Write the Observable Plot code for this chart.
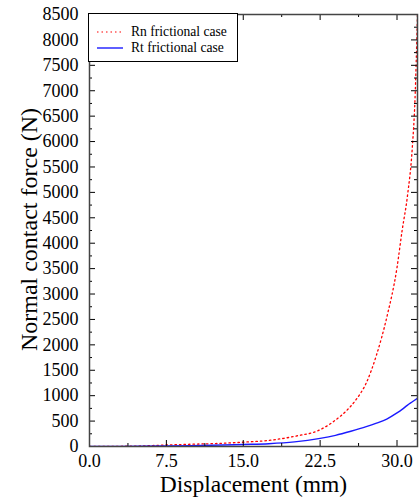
<!DOCTYPE html>
<html>
<head>
<meta charset="utf-8">
<script src="https://cdn.jsdelivr.net/npm/d3@7"></script>
<script src="https://cdn.jsdelivr.net/npm/@observablehq/plot@0.6"></script>
<style>
  html, body { margin: 0; padding: 0; background: #fff; }
  #wrap { position: relative; width: 419px; height: 499px; }
  #chart svg text { font-family: "Liberation Serif", "DejaVu Serif", serif; }
  #legend {
    position: absolute; left: 88px; top: 13px; width: 150px; height: 49px;
    box-sizing: border-box; border: 1px solid #000; background: #fff;
    font-family: "Liberation Serif", "DejaVu Serif", serif; font-size: 13.6px; color: #000;
  }
  #legend .row { position: absolute; left: 0; height: 16px; display: flex; align-items: center; white-space: nowrap; }
  #legend svg { margin-left: 8px; margin-right: 8px; }
</style>
</head>
<body>
<div id="wrap">
  <div id="chart"></div>
  <div id="legend">
    <div class="row" style="top:10px"><svg width="26" height="4"><line x1="0" x2="26" y1="2" y2="2" stroke="#ff0000" stroke-width="1.2" stroke-dasharray="1.5,3"/></svg>Rn frictional case</div>
    <div class="row" style="top:26px"><svg width="26" height="4"><line x1="0" x2="26" y1="2" y2="2" stroke="#1a1aff" stroke-width="1.4"/></svg>Rt frictional case</div>
  </div>
</div>
<script>
// Displacement (mm) and normal contact force (N) for the two frictional cases
const rnDisp  = [0, 5, 7.5, 10, 12.5, 15, 17.5, 20, 22.5, 24, 25, 26, 27, 28, 29, 30, 30.5, 31, 31.5, 31.75, 32];
const rnForce = [0, 10, 30, 45, 60, 85, 120, 200, 330, 520, 690, 920, 1250, 1800, 2540, 3520, 4250, 4900, 5900, 6800, 8500];
const rtDisp  = [0, 5, 10, 15, 17.5, 20, 22.5, 24, 25.5, 27, 28, 29, 30, 30.5, 31, 31.5, 32];
const rtForce = [0, 5, 15, 40, 55, 90, 160, 220, 300, 390, 460, 540, 660, 730, 810, 880, 950];

const xMajor = [0, 7.5, 15, 22.5, 30];
const xMinor = [3.75, 11.25, 18.75, 26.25];
const yMajor = d3.range(0, 8501, 500);
const yMinor = d3.range(250, 8500, 500);

const rn = rnDisp.map((x, i) => ({x, y: rnForce[i]}));
const rt = rtDisp.map((x, i) => ({x, y: rtForce[i]}));

const W = 419, H = 499, mL = 89, mR = 2, mT = 14, mB = 53;
const innerW = W - mL - mR, innerH = H - mT - mB;
const serif = "Liberation Serif, DejaVu Serif, serif";

const chart = Plot.plot({
  width: W, height: H,
  marginLeft: mL, marginRight: mR, marginTop: mT, marginBottom: mB,
  style: {fontFamily: serif, color: "#000", background: "#fff", overflow: "visible"},
  x: {domain: [0, 32]},
  y: {domain: [0, 8500]},
  marks: [
    Plot.line(rn, {x: "x", y: "y", stroke: "#ff0000", strokeWidth: 1.3, strokeDasharray: "1.5,3", curve: "monotone-x", clip: true}),
    Plot.line(rt, {x: "x", y: "y", stroke: "#1a1aff", strokeWidth: 1.4, curve: "monotone-x", clip: true}),
    // inward ticks on all four sides
    Plot.ruleX(xMajor, {x: d => d, insetTop: innerH - 6, stroke: "#000"}),
    Plot.ruleX(xMinor, {x: d => d, insetTop: innerH - 3, stroke: "#000"}),
    Plot.ruleX(xMajor, {x: d => d, insetBottom: innerH - 6, stroke: "#000"}),
    Plot.ruleX(xMinor, {x: d => d, insetBottom: innerH - 3, stroke: "#000"}),
    Plot.ruleY(yMajor, {y: d => d, insetRight: innerW - 6, stroke: "#000"}),
    Plot.ruleY(yMinor, {y: d => d, insetRight: innerW - 3, stroke: "#000"}),
    Plot.ruleY(yMajor, {y: d => d, insetLeft: innerW - 6, stroke: "#000"}),
    Plot.ruleY(yMinor, {y: d => d, insetLeft: innerW - 3, stroke: "#000"}),
    Plot.frame({stroke: "#444", strokeWidth: 1.5}),
    Plot.axisX({ticks: xMajor, tickSize: 0, tickPadding: 8, tickFormat: d3.format(".1f"), fontSize: 18, fontFamily: serif, label: null}),
    Plot.axisY({ticks: yMajor, tickSize: 0, tickPadding: 11, tickFormat: d => String(d), fontSize: 18, fontFamily: serif, label: null}),
    Plot.text(["Displacement (mm)"], {frameAnchor: "bottom", lineAnchor: "middle", textAnchor: "middle", dy: 37.5, fontSize: 23.5, fontFamily: serif, fill: "#000"}),
    Plot.text(["Normal contact force (N)"], {frameAnchor: "left", lineAnchor: "middle", textAnchor: "middle", dx: -60, dy: -1, rotate: -90, fontSize: 24, fontFamily: serif, fill: "#000"})
  ]
});
document.getElementById("chart").appendChild(chart);
</script>
</body>
</html>
